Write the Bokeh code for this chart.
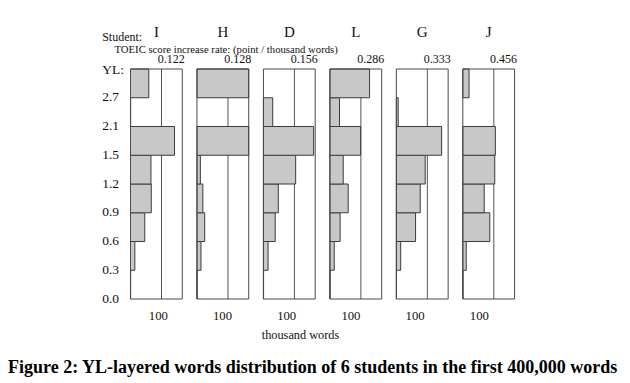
from bokeh.plotting import figure
from bokeh.models import Range1d, Label, LabelSet, ColumnDataSource
from bokeh.core.properties import value
from bokeh.embed import file_html
from bokeh.resources import INLINE

# ---------------- data ----------------
students = ["I", "H", "D", "L", "G", "J"]
rates = ["0.122", "0.128", "0.156", "0.286", "0.333", "0.456"]
yl_ticks = ["0.0", "0.3", "0.6", "0.9", "1.2", "1.5", "2.1", "2.7"]
yl_head = "YL:"
x_tick = "100"
# thousand words per YL band, bands from [0.0-0.3] up to [2.7-]
words_I = [0.5, 14, 46, 67, 66, 142, 0.5, 59]
words_H = [0.5, 13, 25, 19, 11, 200, 0, 200]
words_D = [0.5, 15, 38, 48, 104, 162, 30, 0]
words_L = [0.5, 14, 33, 59, 43, 99, 31, 128]
words_G = [0.5, 14, 62, 77, 93, 146, 6, 0]
words_J = [0.5, 11, 87, 69, 103, 105, 0, 20]
all_words = [words_I, words_H, words_D, words_L, words_G, words_J]
ref_value = 100

# ---------------- layout ----------------
FIG_W, FIG_H = 626, 380
PANEL_W = 167.0      # panel extent in thousand words
STEP = 214.4         # distance between panel origins (data units)
PPU_X = 0.31         # px per data unit (x)
PPU_Y = 28.75        # px per band (y)
X0 = 130.0           # pixel column of the first panel's origin
Y0 = 298.5           # pixel row of YL 0.0
NB = len(yl_ticks)
offsets = [i * STEP for i in range(len(students))]


def X(px):
    return (px - X0) / PPU_X


def Y(py):
    return (Y0 - py) / PPU_Y


FONT = "Liberation Serif"
TXT = "#111111"

p = figure(width=FIG_W, height=FIG_H, output_backend="svg", toolbar_location=None,
           x_range=Range1d(X(0), X(FIG_W)), y_range=Range1d(Y(FIG_H), Y(0)),
           min_border=0, min_border_left=0, min_border_right=0, min_border_top=0,
           min_border_bottom=0,
           background_fill_color="white", border_fill_color="white", outline_line_color=None)
p.xaxis.visible = False
p.yaxis.visible = False
p.xgrid.visible = False
p.ygrid.visible = False

# reference lines at 100
p.segment(x0=[o + ref_value for o in offsets], y0=[0] * len(offsets),
          x1=[o + ref_value for o in offsets], y1=[NB] * len(offsets),
          line_color="#555555", line_width=1)

# bars
L, R, B, T = [], [], [], []
for o, vals in zip(offsets, all_words):
    for b, v in enumerate(vals):
        if v > 0:
            L.append(o)
            R.append(o + min(v, PANEL_W))
            B.append(b)
            T.append(b + 1)
p.quad(left=L, right=R, bottom=B, top=T, fill_color="#c8c8c8",
       line_color="#3c3c3c", line_width=1)

# panel frames
p.quad(left=offsets, right=[o + PANEL_W for o in offsets], bottom=[0] * len(offsets),
       top=[NB] * len(offsets), fill_color=None, line_color="#4a4a4a", line_width=1)

# y labels
lab_x = X(101.7)
ysrc = ColumnDataSource(dict(x=[lab_x] * NB, y=[k - 3.7 / PPU_Y for k in range(NB)], t=yl_ticks))
p.add_layout(LabelSet(x="x", y="y", text="t", source=ysrc, text_align="left",
                      text_baseline="alphabetic", text_font=value(FONT),
                      text_font_size="13.5px", text_color=TXT))
p.add_layout(Label(x=lab_x, y=Y(69), text=yl_head, text_align="left",
                   text_baseline="alphabetic", text_font=FONT, text_font_size="13.5px",
                   text_color=TXT))

# x tick labels "100"
xt = [X(157.8 + i * 64.2) for i in range(len(students))]
xsrc = ColumnDataSource(dict(x=xt, y=[Y(319.3)] * len(xt), t=[x_tick] * len(xt)))
p.add_layout(LabelSet(x="x", y="y", text="t", source=xsrc, text_align="center",
                      text_baseline="alphabetic", text_font=value(FONT),
                      text_font_size="12.7px", text_color=TXT))
p.add_layout(Label(x=X(300), y=Y(334.7), text="thousand words", text_align="center",
                   text_baseline="alphabetic", text_font=FONT, text_font_size="12.3px",
                   text_color=TXT))

# top texts
p.add_layout(Label(x=lab_x, y=Y(36), text="Student:", text_align="left",
                   text_baseline="alphabetic", text_font=FONT, text_font_size="12px",
                   text_color=TXT))
ssrc = ColumnDataSource(dict(x=[o + PANEL_W / 2 for o in offsets],
                             y=[Y(36)] * len(offsets), t=students))
p.add_layout(LabelSet(x="x", y="y", text="t", source=ssrc, text_align="center",
                      text_baseline="alphabetic", text_font=value(FONT),
                      text_font_size="15px", text_color=TXT))
p.add_layout(Label(x=X(114), y=Y(48.3),
                   text="TOEIC score increase rate: (point / thousand words)",
                   text_align="left", text_baseline="alphabetic", text_font=FONT,
                   text_font_size="10.7px", text_color=TXT))
rsrc = ColumnDataSource(dict(x=[o + PANEL_W + 2.5 / PPU_X for o in offsets],
                             y=[Y(62.7)] * len(offsets), t=rates))
p.add_layout(LabelSet(x="x", y="y", text="t", source=rsrc, text_align="right",
                      text_baseline="alphabetic", text_font=value(FONT),
                      text_font_size="12px", text_color=TXT))

# caption
p.add_layout(Label(x=X(312.5), y=Y(366.7),
                   text="Figure 2: YL-layered words distribution of 6 students in the first 400,000 words",
                   text_align="center", text_baseline="alphabetic", text_font=FONT,
                   text_font_style="bold", text_font_size="18px", text_color="#000000"))

open("out.html", "w").write(file_html(p, INLINE))
